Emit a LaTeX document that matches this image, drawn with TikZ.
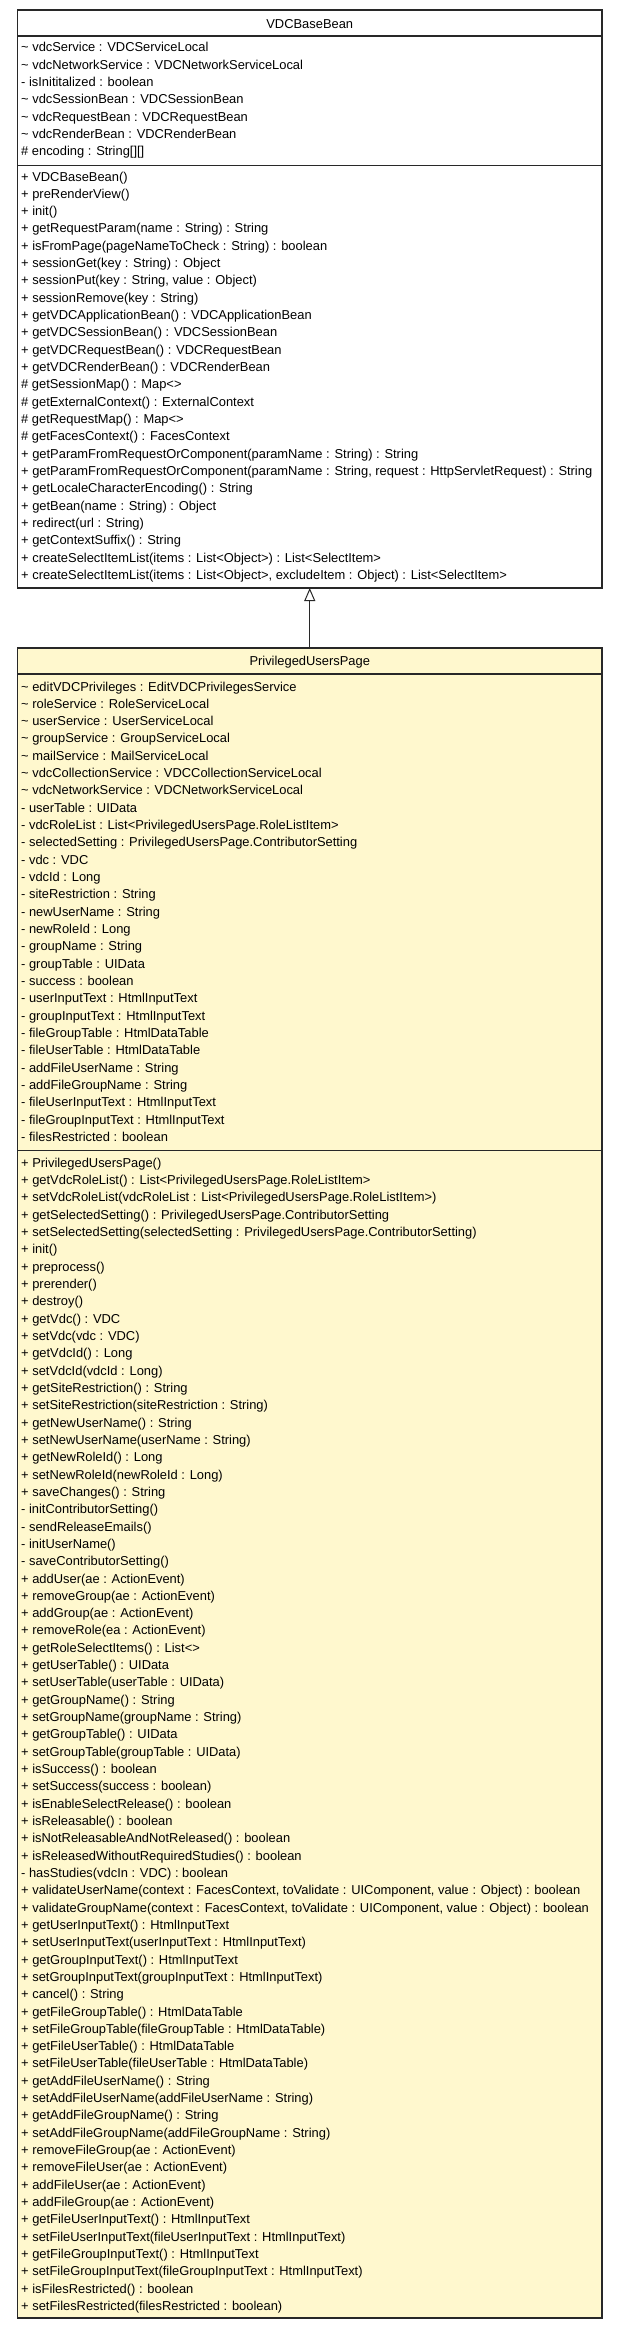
\documentclass[tikz,border=0pt]{standalone}
\usepackage{fontspec}
\setmainfont{Liberation Sans}
\usetikzlibrary{arrows.meta}
\definecolor{umlyellow}{RGB}{255,248,206}
\definecolor{umlline}{RGB}{40,40,40}
\newcommand\umlfont{\fontsize{12.9}{15}\selectfont}
\newcommand\umltilde{\textasciitilde}
\newcommand\umlrows[4]{%
  \foreach \t [count=\i] in {#4} {%
    \node[rowtext] (#1\i) at (#2, {#3+4.3+(\i-1)*17.32}) {\t};
  }%
}
\begin{document}
\begin{tikzpicture}[x=1pt,y=-1pt,
  rowtext/.style={anchor=base west, inner sep=0pt, font=\umlfont, text=black},
  titletext/.style={anchor=base, inner sep=0pt, font=\umlfont, text=black},
  classbox/.style={draw=umlline, line width=1.4pt, inner sep=0pt, outer sep=0pt, minimum width=584.5pt},
  sepline/.style={draw=umlline, line width=1.4pt},
  inherit/.style={draw=umlline, line width=1pt, -{Triangle[open, length=13pt, width=11pt, fill=white]}}
]
\useasboundingbox (0,0) rectangle (621,2331);
% boxes
\node[classbox, fill=white, minimum height=578pt] (base) at (309.75,299) {};
\node[classbox, fill=umlyellow, minimum height=1670pt] (sub) at (309.75,1483) {};
% separators
\draw[sepline] ([yshift=-26pt]base.north west) -- ([yshift=-26pt]base.north east);
\draw[sepline] ([yshift=-155.7pt]base.north west) -- ([yshift=-155.7pt]base.north east);
\draw[sepline] ([yshift=-26pt]sub.north west) -- ([yshift=-26pt]sub.north east);
\draw[sepline] ([yshift=-502.7pt]sub.north west) -- ([yshift=-502.7pt]sub.north east);
% titles
\node[titletext] (basetitle) at (309.75,28.5) {VDCBaseBean};
\node[titletext] (subtitle) at (309.75,665.5) {PrivilegedUsersPage};
% inheritance
\draw[inherit] (sub.north) -- (base.south);
% VDCBaseBean attributes
\umlrows{ba}{21}{47.7}{%
{\umltilde{} vdcService : VDCServiceLocal},
{\umltilde{} vdcNetworkService : VDCNetworkServiceLocal},
{- isInititalized : boolean},
{\umltilde{} vdcSessionBean : VDCSessionBean},
{\umltilde{} vdcRequestBean : VDCRequestBean},
{\umltilde{} vdcRenderBean : VDCRenderBean},
{\# encoding : String[][]}}
% VDCBaseBean methods
\umlrows{bm}{21}{176.7}{%
{+ VDCBaseBean()},
{+ preRenderView()},
{+ init()},
{+ getRequestParam(name : String) : String},
{+ isFromPage(pageNameToCheck : String) : boolean},
{+ sessionGet(key : String) : Object},
{+ sessionPut(key : String, value : Object)},
{+ sessionRemove(key : String)},
{+ getVDCApplicationBean() : VDCApplicationBean},
{+ getVDCSessionBean() : VDCSessionBean},
{+ getVDCRequestBean() : VDCRequestBean},
{+ getVDCRenderBean() : VDCRenderBean},
{\# getSessionMap() : Map<>},
{\# getExternalContext() : ExternalContext},
{\# getRequestMap() : Map<>},
{\# getFacesContext() : FacesContext},
{+ getParamFromRequestOrComponent(paramName : String) : String},
{+ getParamFromRequestOrComponent(paramName : String, request : HttpServletRequest) : String},
{+ getLocaleCharacterEncoding() : String},
{+ getBean(name : String) : Object},
{+ redirect(url : String)},
{+ getContextSuffix() : String},
{+ createSelectItemList(items : List<Object>) : List<SelectItem>},
{+ createSelectItemList(items : List<Object>, excludeItem : Object) : List<SelectItem>}}
% PrivilegedUsersPage attributes
\umlrows{sa}{21}{686.7}{%
{\umltilde{} editVDCPrivileges : EditVDCPrivilegesService},
{\umltilde{} roleService : RoleServiceLocal},
{\umltilde{} userService : UserServiceLocal},
{\umltilde{} groupService : GroupServiceLocal},
{\umltilde{} mailService : MailServiceLocal},
{\umltilde{} vdcCollectionService : VDCCollectionServiceLocal},
{\umltilde{} vdcNetworkService : VDCNetworkServiceLocal},
{- userTable : UIData},
{- vdcRoleList : List<PrivilegedUsersPage.RoleListItem>},
{- selectedSetting : PrivilegedUsersPage.ContributorSetting},
{- vdc : VDC},
{- vdcId : Long},
{- siteRestriction : String},
{- newUserName : String},
{- newRoleId : Long},
{- groupName : String},
{- groupTable : UIData},
{- success : boolean},
{- userInputText : HtmlInputText},
{- groupInputText : HtmlInputText},
{- fileGroupTable : HtmlDataTable},
{- fileUserTable : HtmlDataTable},
{- addFileUserName : String},
{- addFileGroupName : String},
{- fileUserInputText : HtmlInputText},
{- fileGroupInputText : HtmlInputText},
{- filesRestricted : boolean}}
% PrivilegedUsersPage methods
\umlrows{sm}{21}{1163}{%
{+ PrivilegedUsersPage()},
{+ getVdcRoleList() : List<PrivilegedUsersPage.RoleListItem>},
{+ setVdcRoleList(vdcRoleList : List<PrivilegedUsersPage.RoleListItem>)},
{+ getSelectedSetting() : PrivilegedUsersPage.ContributorSetting},
{+ setSelectedSetting(selectedSetting : PrivilegedUsersPage.ContributorSetting)},
{+ init()},
{+ preprocess()},
{+ prerender()},
{+ destroy()},
{+ getVdc() : VDC},
{+ setVdc(vdc : VDC)},
{+ getVdcId() : Long},
{+ setVdcId(vdcId : Long)},
{+ getSiteRestriction() : String},
{+ setSiteRestriction(siteRestriction : String)},
{+ getNewUserName() : String},
{+ setNewUserName(userName : String)},
{+ getNewRoleId() : Long},
{+ setNewRoleId(newRoleId : Long)},
{+ saveChanges() : String},
{- initContributorSetting()},
{- sendReleaseEmails()},
{- initUserName()},
{- saveContributorSetting()},
{+ addUser(ae : ActionEvent)},
{+ removeGroup(ae : ActionEvent)},
{+ addGroup(ae : ActionEvent)},
{+ removeRole(ea : ActionEvent)},
{+ getRoleSelectItems() : List<>},
{+ getUserTable() : UIData},
{+ setUserTable(userTable : UIData)},
{+ getGroupName() : String},
{+ setGroupName(groupName : String)},
{+ getGroupTable() : UIData},
{+ setGroupTable(groupTable : UIData)},
{+ isSuccess() : boolean},
{+ setSuccess(success : boolean)},
{+ isEnableSelectRelease() : boolean},
{+ isReleasable() : boolean},
{+ isNotReleasableAndNotReleased() : boolean},
{+ isReleasedWithoutRequiredStudies() : boolean},
{- hasStudies(vdcIn : VDC) : boolean},
{+ validateUserName(context : FacesContext, toValidate : UIComponent, value : Object) : boolean},
{+ validateGroupName(context : FacesContext, toValidate : UIComponent, value : Object) : boolean},
{+ getUserInputText() : HtmlInputText},
{+ setUserInputText(userInputText : HtmlInputText)},
{+ getGroupInputText() : HtmlInputText},
{+ setGroupInputText(groupInputText : HtmlInputText)},
{+ cancel() : String},
{+ getFileGroupTable() : HtmlDataTable},
{+ setFileGroupTable(fileGroupTable : HtmlDataTable)},
{+ getFileUserTable() : HtmlDataTable},
{+ setFileUserTable(fileUserTable : HtmlDataTable)},
{+ getAddFileUserName() : String},
{+ setAddFileUserName(addFileUserName : String)},
{+ getAddFileGroupName() : String},
{+ setAddFileGroupName(addFileGroupName : String)},
{+ removeFileGroup(ae : ActionEvent)},
{+ removeFileUser(ae : ActionEvent)},
{+ addFileUser(ae : ActionEvent)},
{+ addFileGroup(ae : ActionEvent)},
{+ getFileUserInputText() : HtmlInputText},
{+ setFileUserInputText(fileUserInputText : HtmlInputText)},
{+ getFileGroupInputText() : HtmlInputText},
{+ setFileGroupInputText(fileGroupInputText : HtmlInputText)},
{+ isFilesRestricted() : boolean},
{+ setFilesRestricted(filesRestricted : boolean)}}
\end{tikzpicture}
\end{document}
